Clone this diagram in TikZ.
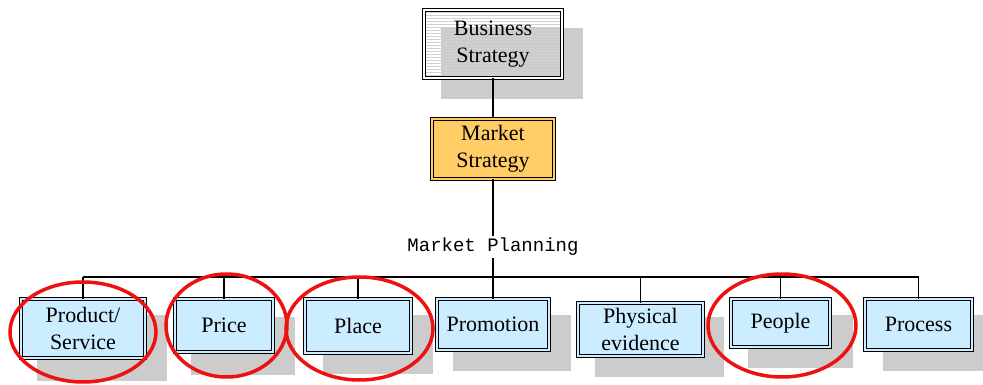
\documentclass[tikz,border=0pt]{standalone}
\usepackage{fontspec}
\setmainfont{Liberation Serif}
\setmonofont{Liberation Mono}
\usetikzlibrary{patterns}
\definecolor{boxblue}{HTML}{CCECFF}
\definecolor{boxorange}{HTML}{FFCC66}
\definecolor{shade}{HTML}{CCCCCC}
\definecolor{ringred}{HTML}{EE1111}
\tikzset{
  mixbox/.style={draw=black, line width=1pt, double=boxblue, double distance=2.2pt,
    fill=boxblue, align=center, font=\fontsize{22}{27}\selectfont, inner sep=0pt},
  topbox/.style={draw=black, line width=1pt, double=white, double distance=2.4pt,
    pattern=horizontal lines, pattern color=black!18, align=center,
    font=\fontsize{22}{27}\selectfont, inner sep=0pt},
  midbox/.style={draw=black, line width=1pt, double=boxorange, double distance=2.2pt,
    fill=boxorange, align=center, font=\fontsize{22}{27}\selectfont, inner sep=0pt},
  shadowbox/.style={fill=shade, draw=none},
  link/.style={draw=black, line width=1.6pt},
  ring/.style={draw=ringred, line width=3.5pt},
  plan/.style={fill=white, font=\ttfamily\fontsize{19}{21}\selectfont, inner sep=2pt}
}
\begin{document}
\begin{tikzpicture}[x=1pt,y=-1pt]
\useasboundingbox (0,0) rectangle (983,385);
% shadows
\fill[shadowbox] (441,28) rectangle (583,99);
\fill[shadowbox] (37,315) rectangle (167,381);
\fill[shadowbox] (191,317) rectangle (295,375);
\fill[shadowbox] (323,315) rectangle (433,374);
\fill[shadowbox] (453,315) rectangle (571,371);
\fill[shadowbox] (595,317) rectangle (724,377);
\fill[shadowbox] (748,315) rectangle (853,368);
\fill[shadowbox] (883,315) rectangle (983,371);
% top boxes
\node[topbox, minimum width=138, minimum height=68] (bs) at (493,44) {Business\\Strategy};
\node[midbox, minimum width=122, minimum height=60] (ms) at (493,149) {Market\\Strategy};
% bottom boxes
\node[mixbox, minimum width=124, minimum height=59] (ps) at (83,328.5) {Product/\\Service};
\node[mixbox, minimum width=98, minimum height=53] (pr) at (224,325.5) {Price};
\node[mixbox, minimum width=106, minimum height=54] (pl) at (358,326) {Place};
\node[mixbox, minimum width=112, minimum height=51] (pm) at (493,324.5) {Promotion};
\node[mixbox, minimum width=125, minimum height=53] (pe) at (640.5,329.5) {Physical\\evidence};
\node[mixbox, minimum width=99, minimum height=48] (pp) at (780.5,323) {People};
\node[mixbox, minimum width=107, minimum height=51] (pc) at (918.5,324.5) {Process};
% connectors
\coordinate (busL) at (83,277);
\coordinate (busR) at (919,277);
\coordinate (busM) at (493,277);
\draw[link] (bs.south) -- (ms.north);
\draw[link] (ms.south) -- (busM);
\node[plan] (mp) at (493,247) {Market Planning};
\draw[link] (busL) -- (busR);
\foreach \b in {ps,pr,pl,pm,pe,pp,pc}{
  \draw[link] (\b.north) -- (\b.north |- busL);
}
% red rings
\draw[ring] (83,332) ellipse [x radius=73, y radius=50];
\draw[ring] (226.5,325.5) ellipse [x radius=60.5, y radius=51.5];
\draw[ring] (359.5,328.5) ellipse [x radius=73.5, y radius=51.5];
\draw[ring] (782,325.5) ellipse [x radius=74, y radius=51.5];
\end{tikzpicture}
\end{document}
